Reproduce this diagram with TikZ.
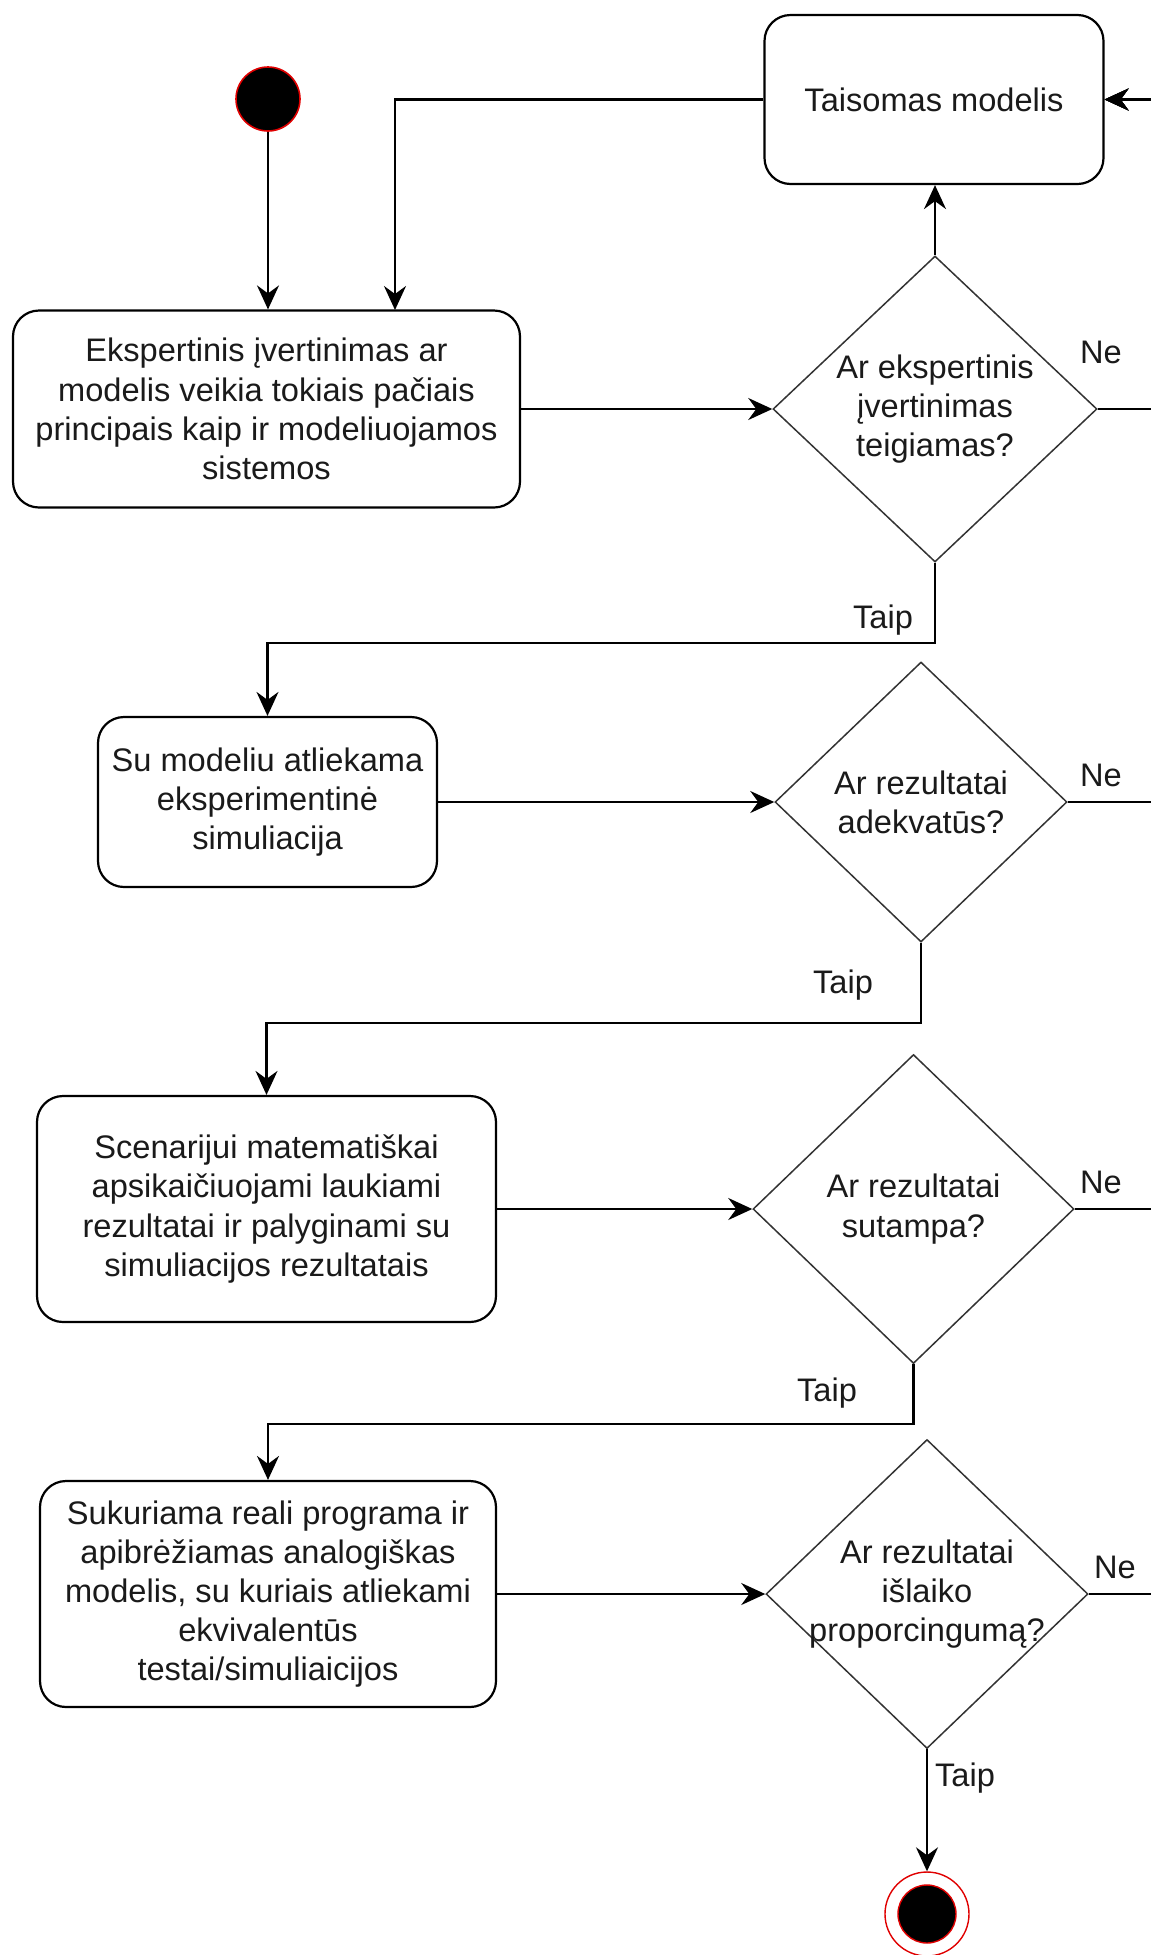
\documentclass[tikz,border=0pt]{standalone}
\usepackage{fontspec}
\setmainfont{Liberation Sans}
\usetikzlibrary{shapes.geometric,arrows.meta,calc}

\definecolor{ink}{HTML}{1A1A1A}
\definecolor{diag}{HTML}{333333}
\definecolor{startred}{HTML}{E00000}

\begin{document}
\begin{tikzpicture}[x=0.5pt,y=-0.5pt,
  every node/.style={font=\fontsize{16.3pt}{19.6pt}\selectfont, text=ink},
  action/.style={draw=black, line width=1.1pt, rounded corners=13pt, fill=white,
                 align=center, inner sep=0pt},
  decision/.style={diamond, draw=diag, line width=0.75pt, fill=white, inner sep=0pt},
  dtext/.style={align=center, inner sep=0pt},
  flow/.style={draw=black, line width=1.15pt,
               -{Stealth[length=12pt,width=11pt,inset=4pt]}},
  lbl/.style={inner sep=0pt},
]
\useasboundingbox (0,0) rectangle (1151,1955);
\clip (0,0) rectangle (1151,1955);

% start and end states
\node[circle, fill=black, draw=startred, line width=0.8pt, minimum size=32pt,
      inner sep=0pt] (start) at (268,99) {};
\node[circle, fill=white, draw=startred, line width=0.7pt, minimum size=42pt,
      inner sep=0pt] (endring) at (927,1914) {};
\node[circle, fill=black, draw=startred, line width=0.7pt, minimum size=29pt,
      inner sep=0pt] (enddot) at (927,1914) {};

% actions
\node[action, minimum width=169.5pt, minimum height=84.5pt] (fix) at (934,99.5)
  {Taisomas modelis};
\node[action, minimum width=253.5pt, minimum height=98.5pt] (b1) at (266.5,409)
  {Ekspertinis įvertinimas ar\\modelis veikia tokiais pačiais\\principais kaip ir modeliuojamos\\sistemos};
\node[action, minimum width=169.5pt, minimum height=85pt] (b2) at (267.5,802)
  {Su modeliu atliekama\\eksperimentinė\\simuliacija};
\node[action, minimum width=229.5pt, minimum height=113pt] (b3) at (266.5,1209)
  {Scenarijui matematiškai\\apsikaičiuojami laukiami\\rezultatai ir palyginami su\\simuliacijos rezultatais};
\node[action, minimum width=228pt, minimum height=113pt] (b4) at (268,1594)
  {Sukuriama reali programa ir\\apibrėžiamas analogiškas\\modelis, su kuriais atliekami\\ekvivalentūs\\testai/simuliaicijos};

% decisions
\node[decision, minimum width=162pt, minimum height=153pt,
      label={[dtext]center:{Ar ekspertinis\\įvertinimas\\teigiamas?}}] (d1) at (935,409) {};
\node[decision, minimum width=146pt, minimum height=140pt,
      label={[dtext]center:{Ar rezultatai\\adekvatūs?}}] (d2) at (921,802) {};
\node[decision, minimum width=160.5pt, minimum height=154.5pt,
      label={[dtext]center:{Ar rezultatai\\sutampa?}}] (d3) at (913.5,1209) {};
\node[decision, minimum width=161pt, minimum height=154.5pt,
      label={[dtext]center:{Ar rezultatai\\išlaiko\\proporcingumą?}}] (d4) at (927,1594) {};

% routing helpers
\coordinate (rail) at (1180,0);
\coordinate (loopx) at (395,310);

% main flow
\draw[flow] (start) -- (start |- b1.north);
\draw[flow] (fix.west) -| (loopx);
\draw[flow] (b1.east) -- (d1.west);
\draw[flow] (d1.north) -- (d1.north |- fix.south);
\draw[flow] (d1.south) -- ++(0,80) -| (b2.north);
\draw[flow] (b2.east) -- (d2.west);
\draw[flow] (d2.south) -- ++(0,80) -| (b3.north);
\draw[flow] (b3.east) -- (d3.west);
\draw[flow] (d3.south) -- ++(0,60) -| (b4.north);
\draw[flow] (b4.east) -- (d4.west);
\draw[flow] (d4.south) -- (endring.north);

% rejections go back to the model fix
\draw[flow] (d1.east) -- (d1.east -| rail) |- (fix.east);
\draw[flow] (d2.east) -- (d2.east -| rail) |- (fix.east);
\draw[flow] (d3.east) -- (d3.east -| rail) |- (fix.east);
\draw[flow] (d4.east) -- (d4.east -| rail) |- (fix.east);

% branch labels
\node[lbl] (ne1) at (1101,352) {Ne};
\node[lbl] (ne2) at (1101,775) {Ne};
\node[lbl] (ne3) at (1101,1182) {Ne};
\node[lbl] (ne4) at (1115,1567) {Ne};
\node[lbl] (taip1) at (883,620) {Taip};
\node[lbl] (taip2) at (843,985) {Taip};
\node[lbl] (taip3) at (827,1393) {Taip};
\node[lbl] (taip4) at (965,1778) {Taip};
\end{tikzpicture}
\end{document}
